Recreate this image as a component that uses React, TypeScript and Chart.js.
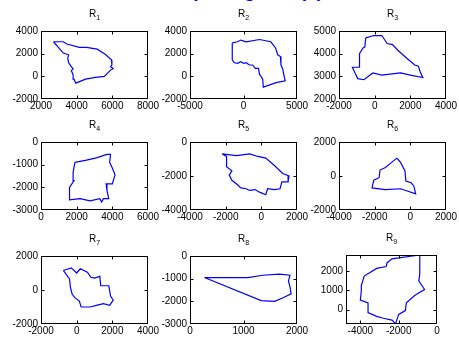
import React, { useEffect, useRef } from "react";
import { Chart, registerables } from "chart.js";
Chart.register(...registerables);

// ---- data ----
const r1X = [2700, 3250, 3450, 4150, 4550, 5150, 5600, 5950, 5975, 5900, 6050, 5900, 5550, 5050, 4500, 3950, 3850, 3800, 3700, 3800, 3700, 3550, 3500, 3550, 3250, 2950];
const r1Y = [3050, 3050, 2850, 2550, 2550, 2400, 1950, 1450, 1000, 850, 700, 550, 0, -100, -250, -600, -250, 150, 500, 650, 850, 1200, 1600, 1900, 2050, 2600];
const r2X = [-1050, -550, -250, 250, 1500, 2550, 3000, 3200, 3450, 3500, 3650, 3800, 3900, 3050, 1850, 1800, 1650, 1500, 1400, 1100, 850, 550, 250, 0, -250, -550, -850, -1050];
const r2Y = [2950, 3050, 3200, 3050, 3250, 3050, 2500, 1900, 1750, 1000, 700, 0, -400, -550, -950, -300, 0, 150, 700, 700, 1000, 1000, 1200, 1150, 1300, 1150, 1200, 1450];
const r3X = [-500, -50, 400, 700, 1000, 1300, 1800, 2250, 2450, 2550, 2700, 2000, 1450, 850, 400, -100, -350, -600, -950, -1100, -1250, -850, -850, -650, -550];
const r3Y = [4700, 4800, 4800, 4450, 4400, 4150, 3800, 3500, 3450, 3200, 2950, 3050, 3150, 3100, 3050, 3150, 3000, 2850, 2900, 3150, 3400, 3400, 4000, 4250, 4300];
const r4X = [1900, 2550, 3100, 3700, 3900, 3850, 4000, 4150, 4000, 3650, 3700, 3800, 3500, 3400, 3300, 2750, 2200, 1600, 1600, 1850, 1800];
const r4Y = [-900, -800, -700, -550, -550, -900, -1150, -1450, -1850, -1850, -2150, -2500, -2500, -2650, -2500, -2600, -2500, -2550, -2000, -1700, -1350];
const r5X = [-2200, -1400, -650, -200, 250, 750, 1200, 1550, 1500, 1150, 1050, 750, 350, 250, -100, -350, -650, -850, -1150, -1350, -1650, -1800, -1650, -1950, -1950];
const r5Y = [-700, -800, -700, -850, -950, -1400, -1850, -2000, -2350, -2350, -2750, -2800, -2750, -3100, -2950, -2800, -2850, -2750, -2700, -2500, -2250, -1950, -1700, -1450, -850];
const r6X = [-750, -550, -300, -250, 50, 200, 300, -550, -1400, -2150, -2050, -1750, -1700, -1400, -1050];
const r6Y = [1050, 800, 300, -300, -400, -600, -1050, -750, -800, -700, -250, -100, 350, 500, 800];
const r7X = [-750, -300, 0, 200, 600, 800, 1000, 1300, 1350, 1800, 1900, 2050, 1850, 1500, 1100, 750, 250, 150, -100, -250, -350, -400];
const r7Y = [1150, 1300, 1000, 1250, 1050, 750, 700, 800, 250, 250, -350, -600, -900, -800, -900, -1000, -1000, -650, -450, -250, 150, 650];
const r8X = [270, 1080, 1360, 1670, 1870, 1840, 1870, 1890, 1730, 1580, 1330];
const r8Y = [-950, -950, -850, -800, -850, -1100, -1370, -1670, -1850, -2000, -1970];
const r9X = [-900, -900, -950, -650, -1150, -1600, -1650, -2000, -2100, -2150, -2350, -2800, -3150, -3600, -3600, -4000, -3950, -3950, -3800, -3150, -2650, -2600, -2350];
const r9Y = [2850, 1850, 1500, 1050, 750, 350, -50, -250, -550, -750, -550, -450, -350, -150, 350, 500, 1000, 1250, 1750, 2150, 2250, 2450, 2650];

// axis ranges
const r1XRange = [2000, 8000]; const r1YRange = [-2000, 4000];
const r2XRange = [-5000, 5000]; const r2YRange = [-2000, 4000];
const r3XRange = [-2000, 4000]; const r3YRange = [2000, 5000];
const r4XRange = [0, 6000]; const r4YRange = [-3000, 0];
const r5XRange = [-4000, 2000]; const r5YRange = [-4000, 0];
const r6XRange = [-4000, 2000]; const r6YRange = [-2000, 2000];
const r7XRange = [-2000, 4000]; const r7YRange = [-2000, 2000];
const r8XRange = [0, 2000]; const r8YRange = [-3000, 0];
const r9XRange = [-4750, 0]; const r9YRange = [-750, 2850];

// tick labels
const r1XTicks = [2000, 4000, 6000, 8000]; const r1YTicks = [-2000, 0, 2000, 4000];
const r2XTicks = [-5000, 0, 5000]; const r2YTicks = [-2000, 0, 2000, 4000];
const r3XTicks = [-2000, 0, 2000, 4000]; const r3YTicks = [2000, 3000, 4000, 5000];
const r4XTicks = [0, 2000, 4000, 6000]; const r4YTicks = [-3000, -2000, -1000, 0];
const r5XTicks = [-4000, -2000, 0, 2000]; const r5YTicks = [-4000, -2000, 0];
const r6XTicks = [-4000, -2000, 0, 2000]; const r6YTicks = [-2000, 0, 2000];
const r7XTicks = [-2000, 0, 2000, 4000]; const r7YTicks = [-2000, 0, 2000];
const r8XTicks = [0, 1000, 2000]; const r8YTicks = [-3000, -2000, -1000, 0];
const r9XTicks = [-4000, -2000, 0]; const r9YTicks = [0, 1000, 2000];

const subscripts = ["1", "2", "3", "4", "5", "6", "7", "8", "9"];
const topTitle = "Sample regions (a)";

// ---- layout / style ----
const FONT = '"Liberation Sans", Arial, Helvetica, sans-serif';
const AXIS_W = 42;
const AXIS_H = 16;
const PAD_TOP = 30;
const PAD_RIGHT = 16;

type Panel = {
  sub: string; xs: number[]; ys: number[]; xr: number[]; yr: number[]; xt: number[]; yt: number[];
  left: number; top: number; w: number; h: number;
};

const colLeft = [41, 190, 339];
const rowTop = [31, 142, 256];
const BW = 107;
const BH = 68;

const panels: Panel[] = [
  { sub: subscripts[0], xs: r1X, ys: r1Y, xr: r1XRange, yr: r1YRange, xt: r1XTicks, yt: r1YTicks, left: colLeft[0], top: rowTop[0], w: BW, h: BH },
  { sub: subscripts[1], xs: r2X, ys: r2Y, xr: r2XRange, yr: r2YRange, xt: r2XTicks, yt: r2YTicks, left: colLeft[1], top: rowTop[0], w: BW, h: BH },
  { sub: subscripts[2], xs: r3X, ys: r3Y, xr: r3XRange, yr: r3YRange, xt: r3XTicks, yt: r3YTicks, left: colLeft[2], top: rowTop[0], w: BW, h: BH },
  { sub: subscripts[3], xs: r4X, ys: r4Y, xr: r4XRange, yr: r4YRange, xt: r4XTicks, yt: r4YTicks, left: colLeft[0], top: rowTop[1], w: BW, h: BH },
  { sub: subscripts[4], xs: r5X, ys: r5Y, xr: r5XRange, yr: r5YRange, xt: r5XTicks, yt: r5YTicks, left: colLeft[1], top: rowTop[1], w: BW, h: BH },
  { sub: subscripts[5], xs: r6X, ys: r6Y, xr: r6XRange, yr: r6YRange, xt: r6XTicks, yt: r6YTicks, left: colLeft[2], top: rowTop[1], w: BW, h: BH },
  { sub: subscripts[6], xs: r7X, ys: r7Y, xr: r7XRange, yr: r7YRange, xt: r7XTicks, yt: r7YTicks, left: colLeft[0], top: rowTop[2], w: BW, h: BH },
  { sub: subscripts[7], xs: r8X, ys: r8Y, xr: r8XRange, yr: r8YRange, xt: r8XTicks, yt: r8YTicks, left: colLeft[1], top: rowTop[2], w: BW, h: BH },
  { sub: subscripts[8], xs: r9X, ys: r9Y, xr: r9XRange, yr: r9YRange, xt: r9XTicks, yt: r9YTicks, left: 346, top: 255, w: 91, h: 69 },
];

const boxPlugin = {
  id: "matlabBox",
  afterDraw(chart: any, _args: any, opts: any) {
    const { ctx, chartArea: a, scales } = chart;
    ctx.save();
    ctx.strokeStyle = "#000";
    ctx.lineWidth = 1;
    const L = a.left + 0.5, T = a.top + 0.5, R = a.right - 0.5, B = a.bottom - 0.5;
    ctx.strokeRect(L, T, R - L, B - T);
    const tl = 3;
    ctx.beginPath();
    scales.x.ticks.forEach((t: any) => {
      const px = Math.round(scales.x.getPixelForValue(t.value)) + 0.5;
      if (px <= L + 1 || px >= R - 1) return;
      ctx.moveTo(px, B); ctx.lineTo(px, B - tl);
      ctx.moveTo(px, T); ctx.lineTo(px, T + tl);
    });
    scales.y.ticks.forEach((t: any) => {
      const py = Math.round(scales.y.getPixelForValue(t.value)) + 0.5;
      if (py <= T + 1 || py >= B - 1) return;
      ctx.moveTo(L, py); ctx.lineTo(L + tl, py);
      ctx.moveTo(R, py); ctx.lineTo(R - tl, py);
    });
    ctx.stroke();
    // title R with subscript
    const cx = (a.left + a.right) / 2;
    ctx.fillStyle = "#000";
    ctx.textBaseline = "alphabetic";
    ctx.textAlign = "left";
    ctx.font = `10px ${FONT}`;
    const w1 = ctx.measureText("R").width;
    ctx.font = `7px ${FONT}`;
    const w2 = ctx.measureText(opts.sub).width;
    const x0 = cx - (w1 + w2) / 2;
    ctx.font = `10px ${FONT}`;
    ctx.fillText("R", x0, a.top - 14);
    ctx.font = `7px ${FONT}`;
    ctx.fillText(opts.sub, x0 + w1, a.top - 11);
    ctx.restore();
  },
};

function SubPlot({ p }: { p: Panel }) {
  const ref = useRef<HTMLCanvasElement | null>(null);
  const W = AXIS_W + p.w + PAD_RIGHT;
  const H = PAD_TOP + p.h + AXIS_H;
  useEffect(() => {
    if (!ref.current) return;
    const pts = p.xs.map((x, i) => ({ x, y: p.ys[i] }));
    pts.push({ x: p.xs[0], y: p.ys[0] });
    const tickFont = { family: FONT, size: 10 };
    const chart = new Chart(ref.current, {
      type: "scatter",
      data: {
        datasets: [
          {
            data: pts,
            showLine: true,
            borderColor: "#0000ff",
            backgroundColor: "#0000ff",
            borderWidth: 1.2,
            pointRadius: 0,
            pointHoverRadius: 0,
            tension: 0,
            fill: false,
          },
        ],
      },
      options: {
        animation: false,
        responsive: false,
        events: [],
        layout: { padding: { top: PAD_TOP, right: PAD_RIGHT, left: 0, bottom: 0 } },
        plugins: {
          legend: { display: false },
          tooltip: { enabled: false },
          title: { display: false },
          matlabBox: { sub: p.sub },
        } as any,
        scales: {
          x: {
            type: "linear",
            min: p.xr[0],
            max: p.xr[1],
            afterBuildTicks: (s: any) => { s.ticks = p.xt.map((v) => ({ value: v })); },
            afterFit: (s: any) => { s.height = AXIS_H; s.paddingLeft = 0; s.paddingRight = 0; },
            grid: { display: false, drawTicks: false, tickLength: 0 },
            border: { display: false },
            ticks: {
              autoSkip: false, maxRotation: 0, minRotation: 0, padding: 1,
              color: "#000", font: tickFont,
              callback: (v: any) => String(v),
            },
          },
          y: {
            type: "linear",
            min: p.yr[0],
            max: p.yr[1],
            afterBuildTicks: (s: any) => { s.ticks = p.yt.map((v) => ({ value: v })); },
            afterFit: (s: any) => { s.width = AXIS_W; s.paddingTop = 0; s.paddingBottom = 0; },
            grid: { display: false, drawTicks: false, tickLength: 0 },
            border: { display: false },
            ticks: {
              autoSkip: false, padding: 3,
              color: "#000", font: tickFont,
              callback: (v: any) => String(v),
            },
          },
        },
      },
      plugins: [boxPlugin],
    } as any);
    return () => chart.destroy();
  }, []);
  return (
    <canvas
      ref={ref}
      width={W}
      height={H}
      style={{ position: "absolute", left: p.left - AXIS_W, top: p.top - PAD_TOP, width: W, height: H }}
    />
  );
}

export default function App() {
  return (
    <div style={{ position: "absolute", left: 0, top: 0, width: 459, height: 344, overflow: "hidden", background: "#fff" }}>
      <div
        style={{
          position: "absolute", left: 0, top: -22.5, width: 323, height: 25, textAlign: "right",
          fontFamily: FONT, fontWeight: "bold", fontSize: 19, lineHeight: "25px",
          color: "#0000ff", whiteSpace: "nowrap",
        }}
      >
        {topTitle}
      </div>
      {panels.map((p, i) => (
        <SubPlot key={i} p={p} />
      ))}
    </div>
  );
}
